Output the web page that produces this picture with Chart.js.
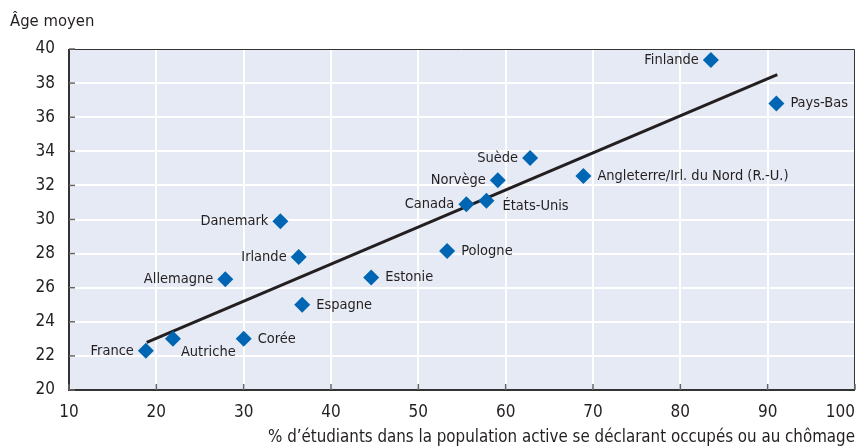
<!DOCTYPE html>
<html>
<head>
<meta charset="utf-8">
<script src="https://cdn.jsdelivr.net/npm/chart.js@4"></script>
<style>
  html, body { margin: 0; padding: 0; background: #fff; }
  #wrap { width: 857px; height: 448px; }
</style>
</head>
<body>
<div id="wrap"><canvas id="chart" width="857" height="448"></canvas></div>
<script>
const FONT = '"Liberation Sans Narrow", "DejaVu Sans Condensed", "Arial Narrow", sans-serif';

// data
const countries = ['France', 'Autriche', 'Corée', 'Allemagne', 'Danemark', 'Irlande', 'Espagne', 'Estonie',
    'Pologne', 'Canada', 'États-Unis', 'Norvège', 'Suède', 'Angleterre/Irl. du Nord (R.-U.)', 'Finlande', 'Pays-Bas'];
const studentShare = [18.8, 21.9, 30.0, 27.9, 34.2, 36.3, 36.7, 44.6, 53.3, 55.5, 57.8, 59.1, 62.8, 68.9, 83.5, 91.0];
const meanAge = [22.3, 23.0, 23.0, 26.5, 29.9, 27.8, 25.0, 26.6, 28.15, 30.9, 31.1, 32.3, 33.6, 32.55, 39.35, 36.8];
// label side: L = left of point, R = right, BR = below right, ER = slightly below right
const labelSide = ['L', 'BR', 'R', 'L', 'L', 'L', 'R', 'R', 'R', 'L', 'ER', 'L', 'L', 'R', 'L', 'R'];
const trendX = [18.9, 91.1];
const trendY = [22.8, 38.5];

const xTicks = [10, 20, 30, 40, 50, 60, 70, 80, 90, 100];
const yTicks = [20, 22, 24, 26, 28, 30, 32, 34, 36, 38, 40];

const yTitle = 'Âge moyen';
const xTitle = '% d’étudiants dans la population active se déclarant occupés ou au chômage';

const points = studentShare.map((x, i) => ({ x: x, y: meanAge[i] }));
const trend = trendX.map((x, i) => ({ x: x, y: trendY[i] }));

const TEXT = '#231f20';

const plotFrame = {
    id: 'plotFrame',
    beforeDraw(chart) {
        const { ctx, chartArea: a } = chart;
        ctx.save();
        ctx.fillStyle = '#e6eaf5';
        ctx.fillRect(a.left, a.top, a.right - a.left, a.bottom - a.top);
        ctx.restore();
    },
    afterDatasetsDraw(chart) {
        const { ctx, chartArea: a, scales } = chart;
        ctx.save();
        // frame
        ctx.strokeStyle = '#333';
        ctx.lineWidth = 1;
        ctx.beginPath();
        ctx.moveTo(a.left, a.top + 0.5);
        ctx.lineTo(a.right - 0.5, a.top + 0.5);
        ctx.lineTo(a.right - 0.5, a.bottom);
        ctx.stroke();
        ctx.lineWidth = 2;
        ctx.beginPath();
        ctx.moveTo(a.left, a.top);
        ctx.lineTo(a.left, a.bottom);
        ctx.lineTo(a.right, a.bottom);
        ctx.stroke();
        // inner ticks
        ctx.strokeStyle = '#666';
        ctx.lineWidth = 1.5;
        yTicks.forEach(v => {
            const y = scales.y.getPixelForValue(v);
            ctx.beginPath();
            ctx.moveTo(a.left, y);
            ctx.lineTo(a.left + 6, y);
            ctx.stroke();
        });
        xTicks.forEach(v => {
            const x = scales.x.getPixelForValue(v);
            ctx.beginPath();
            ctx.moveTo(x, a.bottom);
            ctx.lineTo(x, a.bottom - 6);
            ctx.stroke();
        });
        // x tick labels (last one kept inside the canvas)
        ctx.fillStyle = TEXT;
        ctx.font = '17px ' + FONT;
        ctx.textBaseline = 'middle';
        xTicks.forEach((v, i) => {
            const x = scales.x.getPixelForValue(v);
            if (i === xTicks.length - 1) {
                ctx.textAlign = 'right';
                ctx.fillText(String(v), x, a.bottom + 23);
            } else {
                ctx.textAlign = 'center';
                ctx.fillText(String(v), x, a.bottom + 23);
            }
        });
        // x title
        ctx.textAlign = 'right';
        ctx.font = '16.8px ' + FONT;
        ctx.fillText(xTitle, a.right, a.bottom + 48);
        // point labels
        ctx.font = '14.5px ' + FONT;
        countries.forEach((name, i) => {
            const x = scales.x.getPixelForValue(studentShare[i]);
            const y = scales.y.getPixelForValue(meanAge[i]);
            const side = labelSide[i];
            if (side === 'L') {
                ctx.textAlign = 'right';
                ctx.fillText(name, x - 12, y);
            } else if (side === 'R') {
                ctx.textAlign = 'left';
                ctx.fillText(name, x + 14, y);
            } else if (side === 'BR') {
                ctx.textAlign = 'left';
                ctx.fillText(name, x + 8, y + 13);
            } else {
                ctx.textAlign = 'left';
                ctx.fillText(name, x + 16, y + 5);
            }
        });
        // y title
        ctx.textAlign = 'left';
        ctx.font = '16.5px ' + FONT;
        ctx.fillText(yTitle, 10, 22);
        ctx.restore();
    }
};

new Chart(document.getElementById('chart'), {
    type: 'scatter',
    data: {
        datasets: [
            {
                type: 'line',
                data: trend,
                borderColor: '#231f20',
                borderWidth: 3,
                pointRadius: 0,
                fill: false,
                order: 2
            },
            {
                data: points,
                pointStyle: 'rectRot',
                pointRadius: 8,
                pointHoverRadius: 8,
                backgroundColor: '#0066b3',
                borderColor: '#0066b3',
                borderWidth: 0,
                order: 1
            }
        ]
    },
    options: {
        responsive: false,
        animation: false,
        layout: { autoPadding: false, padding: { top: 49, right: 2, left: 0, bottom: 0 } },
        plugins: {
            legend: { display: false },
            tooltip: { enabled: false }
        },
        scales: {
            x: {
                type: 'linear',
                min: 10,
                max: 100,
                afterBuildTicks: scale => { scale.ticks = xTicks.map(v => ({ value: v })); },
                afterFit: scale => {
                    scale.height = 58;
                    scale.paddingLeft = 0;
                    scale.paddingRight = 0;
                },
                border: { display: false },
                grid: { color: '#ffffff', lineWidth: 2, drawTicks: false },
                ticks: { display: false }
            },
            y: {
                type: 'linear',
                min: 20,
                max: 40,
                afterBuildTicks: scale => { scale.ticks = yTicks.map(v => ({ value: v })); },
                afterFit: scale => {
                    scale.width = 69;
                    scale.paddingTop = 0;
                    scale.paddingBottom = 0;
                },
                border: { display: false },
                grid: { color: '#ffffff', lineWidth: 2, drawTicks: false },
                ticks: {
                    color: TEXT,
                    font: { family: FONT, size: 17 },
                    padding: 14
                }
            }
        }
    },
    plugins: [plotFrame]
});
</script>
</body>
</html>
